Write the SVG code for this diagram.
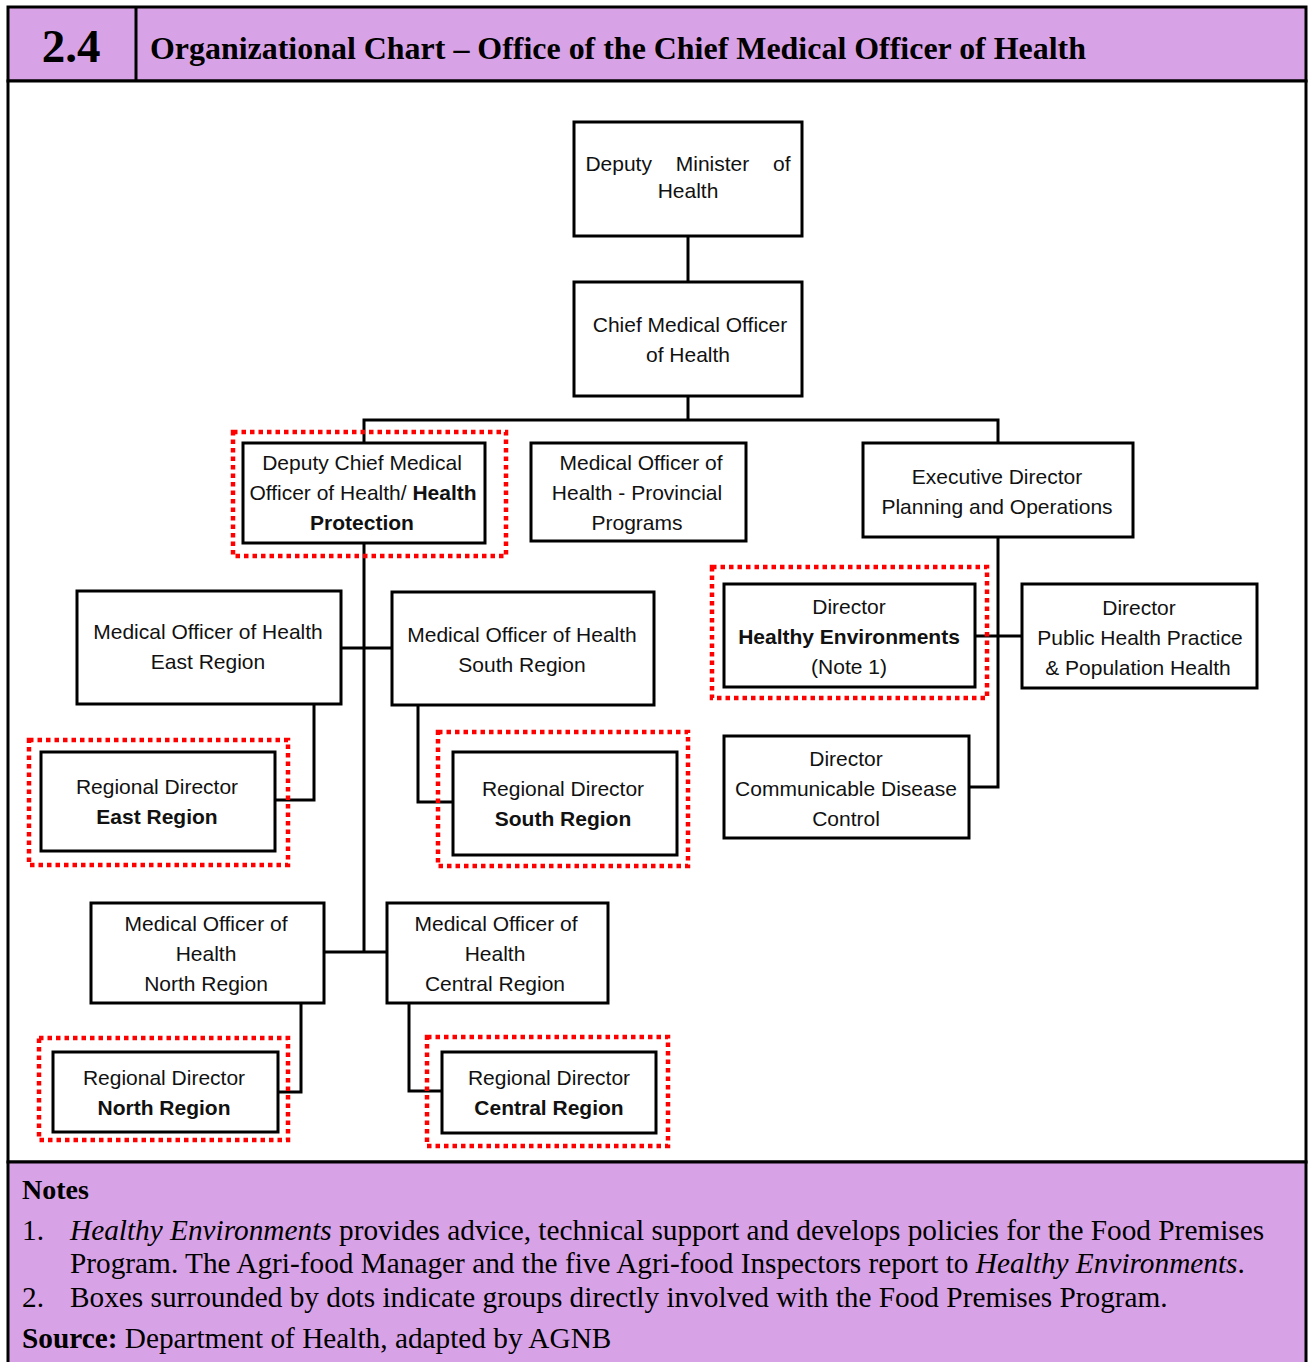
<svg xmlns="http://www.w3.org/2000/svg" width="1311" height="1362" viewBox="0 0 1311 1362">
<style>
.box{fill:#fff;stroke:#000;stroke-width:3}
.dot{fill:none;stroke:#f00;stroke-width:4.5;stroke-dasharray:4.5 4}
.ln{fill:none;stroke:#000;stroke-width:3}
.t{font-family:'Liberation Sans',Arial,sans-serif;font-size:21px;fill:#111;text-anchor:middle}
.b{font-weight:bold}
.tm{font-family:'Liberation Serif','Times New Roman',serif;fill:#000}
</style>
<rect x="0" y="0" width="1311" height="1362" fill="#fff"/>
<g id="frame">
<rect x="8" y="7" width="1298" height="74" fill="#D8A3E6" stroke="#000" stroke-width="3"/>
<line x1="136" y1="7" x2="136" y2="81" stroke="#000" stroke-width="3"/>
<rect x="8" y="81" width="1298" height="1081" fill="#fff" stroke="#000" stroke-width="3"/>
<rect x="8" y="1162" width="1298" height="210" fill="#D8A3E6" stroke="#000" stroke-width="3"/>
<text class="tm" x="71" y="62" font-size="47" font-weight="bold" text-anchor="middle">2.4</text>
<text class="tm" x="150" y="59" font-size="31" font-weight="bold" textLength="936" lengthAdjust="spacingAndGlyphs">Organizational Chart – Office of the Chief Medical Officer of Health</text>
</g>
<g id="connectors">
<polyline class="ln" points="688,236 688,282"/>
<polyline class="ln" points="688,396 688,420"/>
<polyline class="ln" points="364,443 364,420 998,420 998,443"/>
<polyline class="ln" points="364,543 364,952"/>
<polyline class="ln" points="341,648 392,648"/>
<polyline class="ln" points="314,704 314,800 275,800"/>
<polyline class="ln" points="418,705 418,802 453,802"/>
<polyline class="ln" points="324,952 387,952"/>
<polyline class="ln" points="301,1003 301,1092 278,1092"/>
<polyline class="ln" points="409,1003 409,1091 442,1091"/>
<polyline class="ln" points="998,537 998,787 969,787"/>
<polyline class="ln" points="975,636 1022,636"/>
</g>
<g id="dm">
<rect class="box" x="574" y="122" width="228" height="114"/>
<text class="t" x="688" y="171" word-spacing="18">Deputy Minister of</text>
<text class="t" x="688" y="198">Health</text>
</g>
<g id="cmo">
<rect class="box" x="574" y="282" width="228" height="114"/>
<text class="t" x="690" y="332">Chief Medical Officer</text>
<text class="t" x="688" y="362">of Health</text>
</g>
<g id="dcmo">
<rect class="dot" x="233" y="432" width="273" height="124"/>
<rect class="box" x="243" y="443" width="242" height="100"/>
<text class="t" x="362" y="470">Deputy Chief Medical</text>
<text class="t" x="363" y="500">Officer of Health/ <tspan class="b">Health</tspan></text>
<text class="t b" x="362" y="530">Protection</text>
</g>
<g id="prov">
<rect class="box" x="531" y="443" width="215" height="98"/>
<text class="t" x="641" y="470">Medical Officer of</text>
<text class="t" x="637" y="500">Health - Provincial</text>
<text class="t" x="637" y="530">Programs</text>
</g>
<g id="exec">
<rect class="box" x="863" y="443" width="270" height="94"/>
<text class="t" x="997" y="484">Executive Director</text>
<text class="t" x="997" y="514">Planning and Operations</text>
</g>
<g id="he">
<rect class="dot" x="712" y="567" width="275" height="131"/>
<rect class="box" x="724" y="584" width="251" height="103"/>
<text class="t" x="849" y="614">Director</text>
<text class="t b" x="849" y="644">Healthy Environments</text>
<text class="t" x="849" y="674">(Note 1)</text>
</g>
<g id="php">
<rect class="box" x="1022" y="584" width="235" height="104"/>
<text class="t" x="1139" y="615">Director</text>
<text class="t" x="1140" y="645">Public Health Practice</text>
<text class="t" x="1138" y="675">&amp; Population Health</text>
</g>
<g id="cdc">
<rect class="box" x="724" y="736" width="245" height="102"/>
<text class="t" x="846" y="766">Director</text>
<text class="t" x="846" y="796">Communicable Disease</text>
<text class="t" x="846" y="826">Control</text>
</g>
<g id="moh-east">
<rect class="box" x="77" y="591" width="264" height="113"/>
<text class="t" x="208" y="639">Medical Officer of Health</text>
<text class="t" x="208" y="669">East Region</text>
</g>
<g id="moh-south">
<rect class="box" x="392" y="592" width="262" height="113"/>
<text class="t" x="522" y="642">Medical Officer of Health</text>
<text class="t" x="522" y="672">South Region</text>
</g>
<g id="rd-east">
<rect class="dot" x="29" y="740" width="259" height="125"/>
<rect class="box" x="41" y="752" width="234" height="99"/>
<text class="t" x="157" y="794">Regional Director</text>
<text class="t b" x="157" y="824">East Region</text>
</g>
<g id="rd-south">
<rect class="dot" x="438" y="732" width="250" height="134"/>
<rect class="box" x="453" y="752" width="224" height="103"/>
<text class="t" x="563" y="796">Regional Director</text>
<text class="t b" x="563" y="826">South Region</text>
</g>
<g id="moh-north">
<rect class="box" x="91" y="903" width="233" height="100"/>
<text class="t" x="206" y="931">Medical Officer of</text>
<text class="t" x="206" y="961">Health</text>
<text class="t" x="206" y="991">North Region</text>
</g>
<g id="moh-central">
<rect class="box" x="387" y="903" width="221" height="100"/>
<text class="t" x="496" y="931">Medical Officer of</text>
<text class="t" x="495" y="961">Health</text>
<text class="t" x="495" y="991">Central Region</text>
</g>
<g id="rd-north">
<rect class="dot" x="39" y="1038" width="249" height="102"/>
<rect class="box" x="53" y="1052" width="225" height="80"/>
<text class="t" x="164" y="1085">Regional Director</text>
<text class="t b" x="164" y="1115">North Region</text>
</g>
<g id="rd-central">
<rect class="dot" x="427" y="1037" width="241" height="109"/>
<rect class="box" x="442" y="1052" width="214" height="81"/>
<text class="t" x="549" y="1085">Regional Director</text>
<text class="t b" x="549" y="1115">Central Region</text>
</g>
<g id="notes" class="tm" font-size="29.3">
<text x="22" y="1199" font-weight="bold" font-size="28">Notes</text>
<text x="22" y="1240">1.</text>
<text x="70" y="1240"><tspan font-style="italic">Healthy Environments</tspan> provides advice, technical support and develops policies for the Food Premises</text>
<text x="70" y="1273">Program. The Agri-food Manager and the five Agri-food Inspectors report to <tspan font-style="italic">Healthy Environments</tspan>.</text>
<text x="22" y="1307">2.</text>
<text x="70" y="1307">Boxes surrounded by dots indicate groups directly involved with the Food Premises Program.</text>
<text x="22" y="1348"><tspan font-weight="bold">Source:</tspan> Department of Health, adapted by AGNB</text>
</g>
</svg>
